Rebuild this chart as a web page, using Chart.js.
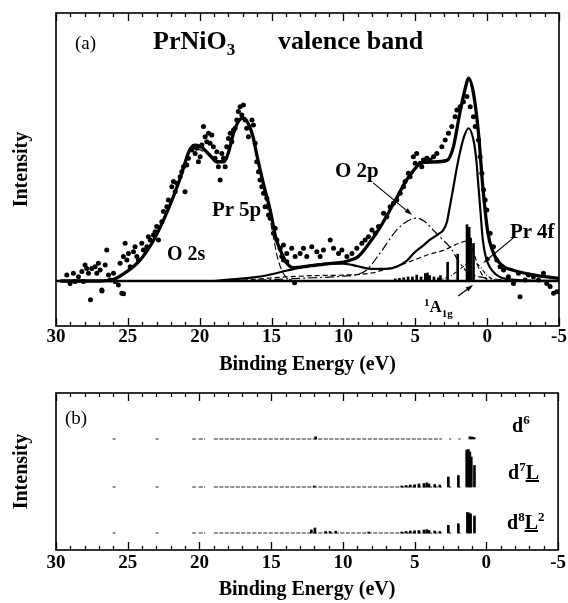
<!DOCTYPE html>
<html><head><meta charset="utf-8">
<script src="https://cdn.jsdelivr.net/npm/chart.js@4.4.1/dist/chart.umd.min.js"></script>
<style>
html,body{margin:0;padding:0;background:#fff;width:568px;height:603px;overflow:hidden;}
#wrap{position:relative;width:568px;height:603px;}
canvas{position:absolute;left:0;}
.lbl{position:absolute;font-family:"Liberation Serif","Times New Roman",serif;font-weight:bold;color:#000;white-space:nowrap;line-height:1;}
</style></head>
<body><div id="wrap">
<canvas id="topc" width="568" height="380" style="top:0"></canvas>
<canvas id="botc" width="568" height="223" style="top:380px"></canvas>
<div class="lbl" style="left:75px;top:33px;font-size:19px;font-weight:normal">(a)</div>
<div class="lbl" style="left:153px;top:28px;font-size:26px">PrNiO<span style="font-size:17px;vertical-align:-6px">3</span></div>
<div class="lbl" style="left:278px;top:28px;font-size:26px">valence band</div>
<div class="lbl" style="left:167px;top:243px;font-size:20px">O 2s</div>
<div class="lbl" style="left:212px;top:199px;font-size:21px">Pr 5p</div>
<div class="lbl" style="left:335px;top:160px;font-size:21px">O 2p</div>
<div class="lbl" style="left:510px;top:221px;font-size:21px">Pr 4f</div>
<div class="lbl" style="left:424px;top:297px;font-size:17px"><span style="font-size:11px;vertical-align:6px">1</span>A<span style="font-size:11px;vertical-align:-5px">1g</span></div>
<div class="lbl" style="left:65px;top:408px;font-size:19px;font-weight:normal">(b)</div>
<div class="lbl" style="left:512px;top:413px;font-size:20px">d<span style="font-size:13px;vertical-align:8px">6</span></div>
<div class="lbl" style="left:508px;top:460px;font-size:20px">d<span style="font-size:13px;vertical-align:8px">7</span><u>L</u></div>
<div class="lbl" style="left:507px;top:510px;font-size:20px">d<span style="font-size:13px;vertical-align:8px">8</span><u>L</u><span style="font-size:13px;vertical-align:8px">2</span></div>
</div>
<script>
// ---------- DATA (energy in eV, intensity in arbitrary units) ----------
const energyMin = -5, energyMax = 30, majorStep = 5, minorStep = 1;

// experimental points [E, I]
const measured = [
[29.25,2.2],[29.02,-0.9],[28.79,2.9],[28.67,-0.2],[28.44,1.6],[28.2,3.5],[28.09,-0.2],[27.98,6.0],[27.86,4.7],[27.74,2.9],
[27.6,-7],[27.51,4.7],[27.28,5.3],[27.16,2.9],[27.05,6.6],[26.93,4.1],[26.81,-3.4],[26.8,-3.7],[26.58,6.0],[26.47,11.6],[26.35,2.2],
[26.23,0.4],[26.0,2.9],[25.89,-0.2],[25.66,-1.5],[25.54,6.6],[25.42,-4.6],[25.3,-4.8],[25.31,9.1],[25.19,14.1],[25.07,7.8],
[24.96,10.3],[24.84,5.3],[24.61,10.9],[24.5,12.8],[24.38,9.1],[24.27,7.8],[24.03,14.1],[23.92,11.6],[23.68,12.8],[23.57,16.5],
[23.45,15.3],[23.22,17.2],[23.1,18.4],[22.99,20.3],[22.87,15.3],[22.64,22.1],[22.52,25.9],[22.29,27.7],[22.18,30.2],[21.94,35.2],
[21.83,37.1],[21.71,33.3],[21.59,36.5],[21.36,38.9],[21.25,40.8],[21.13,42.6],[21.02,33.3],[20.9,43.3],[20.79,45.8],[20.55,48.9],
[20.44,50.1],[20.32,47.6],[20.2,49.5],[20.09,44.5],[19.97,46.4],[19.85,50.7],[19.74,57.6],[19.62,53.8],[19.51,52],[19.39,55.1],
[19.28,51.4],[19.16,54.5],[19.05,50.1],[18.93,45.8],[18.81,48.2],[18.7,42.6],[18.58,37.7],[18.46,47.6],[18.35,45.8],[18.23,42.6],
[18.12,50.1],[18.0,53.2],[17.88,55.1],[17.77,52],[17.65,56.3],[17.54,57],[17.42,60.1],[17.31,63.2],[17.19,65],[17.07,61.9],
[16.96,65.7],[16.84,60.1],[16.73,57],[16.61,53.8],[16.37,60.1],[16.26,58.2],[16.14,51.4],[16.03,44.5],[15.91,40.8],[15.8,37.7],
[15.68,35.2],[15.56,32.7],[15.45,27.7],[15.33,30.9],[15.21,24.6],[15.1,23.4],[14.87,17.8],[14.75,19.7],[14.63,15.3],[14.4,12.2],
[14.29,9.1],[14.17,7.8],[13.94,7.2],[14.17,13.4],[13.94,10.3],[13.6,12.2],[13.4,-0.7],[13.36,9.1],[13.01,10.3],[12.78,12.2],[12.55,9.1],
[12.2,12.8],[11.85,10.9],[11.62,9.1],[11.39,11.6],[10.92,15.3],[10.69,12.2],[10.34,10.3],[10.11,11.6],[9.76,9.1],[9.41,10.3],
[9.07,12.2],[8.72,14.1],[8.49,15.3],[8.26,16.5],[8.02,19],[7.79,17.8],[7.56,20.3],[7.21,25.3],[6.98,24],[6.75,27.7],[6.52,29],
[6.29,30.2],[6.05,32.7],[5.82,35.2],[5.71,37.1],[5.48,40.2],[5.36,38.9],[5.13,46.4],[5.01,43.9],[4.9,47.6],[4.66,43.9],[4.55,42.6],
[4.43,45.1],[4.2,45.8],[3.97,45.1],[3.73,46.4],[3.5,47.6],[3.15,50.1],[2.92,52.6],[2.69,55.1],[2.46,57.6],[2.23,61.3],[2.11,63.8],
[1.88,65],[1.65,66.9],[1.41,68.8],[1.18,65],[0.95,61.3],[0.83,57.6],[0.6,52.6],[0.49,46.4],[0.37,40.2],[0.25,34],[0.14,30.2],
[0.02,26.5],[-0.21,17.8],[-0.44,12.8],[-0.67,7.8],[-0.9,5.3],[-1.14,4.1],[-1.48,1.6],[-1.83,-0.9],[-2.18,2.9],[-2.29,-5.9],
[-2.64,0.4],[-2.87,2.2],[-3.22,1.6],[-3.57,0.4],[-3.92,2.9],[-4.15,-0.9],[-4.38,-2.1],[-4.62,-4.6],[-4.85,-4.0]
];

// total fit (thick solid)
const totalFit = [
[29.7,0],[28,0],[27,0],[26.1,0.4],[25.07,3.5],[24.15,7.8],[23.2,15.3],[22.3,25.4],[21.4,37.7],[20.7,48.9],[20.3,50.7],[19.9,50],
[19.3,47],[18.8,44.5],[18.3,44.5],[18.0,48],[17.6,56],[17.2,60.3],[16.95,60.8],[16.6,58.5],[16.3,54],[16.0,46.4],[15.6,37],
[15.1,26.5],[14.7,16],[14.4,11.6],[13.94,6.7],[13.5,5],[12.5,5.5],[11,6.5],[10,7],[9.5,7.8],[9.0,9],[8.4,12.7],[7.45,20],[6.5,29],
[5.6,37.7],[5.0,42],[4.65,44],[3.75,44.4],[2.8,45],[2.35,50],[1.9,62.7],[1.5,72.4],[1.3,75.7],[0.95,70],[0.6,55],[0.3,35],
[-0.05,18],[-0.4,11],[-0.7,7.8],[-1.2,5.2],[-1.8,4],[-3,2.5],[-4.2,1.5],[-5,1]
];
// Pr 5p component (thin dashed)
const pr5p = [
[20.2,49.5],[19.5,47.5],[18.8,44],[18.1,45.5],[17.7,54.5],[17.0,60.3],[16.5,57],[16.0,45.5],[15.5,33],[15.0,20],[14.6,9],
[14.2,3],[13.7,0.5],[13,0]
];
// Ni 3d spectrum (medium solid)
const ni3d = [
[19,0],[18,0.5],[16,1.5],[15,2.5],[14,3.8],[13,5],[12,6],[11,6.5],[10,6.5],[9,5.5],[8,4.5],[7,4.5],[6.3,5.3],[5.6,7.5],
[5.1,10.4],[4.5,13],[4.0,15.3],[3.4,17.5],[3.05,19],[2.8,22],[2.6,27.6],[2.35,35],[2.1,42.5],[1.85,49],[1.6,54],[1.3,57],
[0.95,52.6],[0.75,45],[0.6,35],[0.45,25],[0.3,15.3],[0.1,9],[-0.2,5],[-0.6,2.5],[-1,1.2],[-2,0.4],[-3,0.1],[-5,0]
];
// O 2p component (dash-dot)
const o2p = [
[16,0.3],[13,1],[10,1.8],[9,2.5],[8.4,4],[7.45,10.4],[6.3,19],[5.5,22.5],[4.9,23.5],[4.3,22],[3.75,19],[3.2,16],[2.6,12.7],
[1.9,6.7],[1.5,4],[1,2.2],[0.5,1.5],[0,1],[-1,0.5]
];
// broad dashed component
const broadComp = [
[17,0.3],[14,1.5],[12,2],[10,2.2],[8,3],[7,4.5],[6,6],[5,8],[4,10],[3,11.5],[2,14],[1.3,15],[0.9,10],[0.6,5],[0.3,2],[0,0.5]
];
// Pr 4f component (dash-dot, small)
const pr4f = [
[3.5,0],[2.5,2],[2,4],[1.5,6],[1,7],[0.6,6],[0.3,4],[0,2],[-0.5,0.5],[-1,0]
];
// zero line
const zeroLine = [[30,0],[-5,0]];
// calculated line spectrum (top panel) [E, height]
const topSticks = [
[6.4,0.8],[6.1,1],[5.8,1.2],[5.5,1.5],[5.2,1.5],[4.9,2.2],[4.6,1.5],[4.3,2.8],[4.15,3],[4.0,2],[3.7,1.5],[3.4,1.2],[3.25,2],
[2.75,7],[2.05,10],[1.4,21],[1.25,20],[1.15,16],[0.95,14]
];

// bottom panel: row offsets and sticks [E, height]
const rowNames = ['d6','d7L','d8L2'];
const rowBase = [111, 63, 17];
const d6Sticks = [[11.9,2.2],[1.15,2.2],[1.0,2],[0.85,1.5]];
const d7LSticks = [[12.0,1],[5.9,1],[5.6,1.5],[5.3,2],[5.0,2.2],[4.7,3],[4.35,3.5],[4.15,4.2],[4.0,3],[3.6,2.5],[3.25,2],
  [2.65,10],[1.95,11.5],[1.37,37],[1.25,37.5],[1.15,35],[1.05,30],[0.83,21.5]];
const d8L2Sticks = [[12.2,3],[11.95,5],[11.2,1.5],[10.9,1.5],[10.5,1.8],[8.2,1],[5.9,1],[5.6,1.5],[5.3,2],[5.0,2.2],[4.7,2.5],
  [4.35,3],[4.15,3.3],[4.0,2.5],[3.6,2],[3.25,1.5],[2.65,7.7],[1.95,9.3],[1.32,20.5],[1.2,20],[1.1,19],[0.83,17]];
const rowSegments = [[26.05,25.85],[23.05,22.85],[20.5,20.25],[20.05,19.6],[19.0,3.1],[2.6,2.45],[1.95,1.8]];

// annotation arrows in data coords [fromE, fromI, toE, toI]
const arrowsTop = [[7.93,36.6,5.22,24.6],[-1.81,16,0.28,6.7],[2.02,-5.6,0.97,-1.5]];

// ---------- helpers ----------
const pts = arr => arr.map(([x,y]) => ({x, y}));
const serif = "'Liberation Serif','Times New Roman',serif";
const BLACK = '#000';

const framePlugin = {
  id: 'frame',
  afterDatasetsDraw(chart) {
    const {ctx, chartArea: {left, right, top, bottom}, scales: {x}} = chart;
    ctx.save();
    ctx.strokeStyle = BLACK;
    ctx.lineWidth = 1.6;
    ctx.strokeRect(left, top, right - left, bottom - top);
    ctx.lineWidth = 1.3;
    for (let v = energyMin; v <= energyMax; v += minorStep) {
      const px = Math.round(x.getPixelForValue(v)) + 0.5;
      const len = v % majorStep === 0 ? 8 : 4;
      ctx.beginPath();
      ctx.moveTo(px, bottom); ctx.lineTo(px, bottom - len);
      ctx.moveTo(px, top); ctx.lineTo(px, top + len);
      ctx.stroke();
    }
    ctx.restore();
  }
};
const arrowPlugin = {
  id: 'arrows',
  afterDatasetsDraw(chart, args, opts) {
    const list = opts.list || [];
    const {ctx, scales: {x, y}} = chart;
    ctx.save();
    ctx.strokeStyle = BLACK; ctx.fillStyle = BLACK; ctx.lineWidth = 1.2;
    list.forEach(([e0, i0, e1, i1]) => {
      const x0 = x.getPixelForValue(e0), y0 = y.getPixelForValue(i0);
      const x1 = x.getPixelForValue(e1), y1 = y.getPixelForValue(i1);
      const a = Math.atan2(y1 - y0, x1 - x0);
      ctx.beginPath(); ctx.moveTo(x0, y0); ctx.lineTo(x1 - 5 * Math.cos(a), y1 - 5 * Math.sin(a)); ctx.stroke();
      ctx.beginPath();
      ctx.moveTo(x1, y1);
      ctx.lineTo(x1 - 8 * Math.cos(a - 0.3), y1 - 8 * Math.sin(a - 0.3));
      ctx.lineTo(x1 - 8 * Math.cos(a + 0.3), y1 - 8 * Math.sin(a + 0.3));
      ctx.closePath(); ctx.fill();
    });
    ctx.restore();
  }
};

function xScale(tickPad, titlePadBottom, h) {
  return {
    type: 'linear', reverse: true, min: energyMin, max: energyMax, offset: false,
    grid: {display: false, drawTicks: false}, border: {display: false},
    ticks: {stepSize: majorStep, autoSkip: false, maxRotation: 0, padding: tickPad, color: BLACK,
      font: {family: serif, weight: 'bold', size: 19}, callback: v => String(v)},
    title: {display: true, text: 'Binding Energy (eV)', color: BLACK,
      font: {family: serif, weight: 'bold', size: 20}, padding: {top: 0, bottom: titlePadBottom}},
    afterFit(s) { s.height = h; }
  };
}
function yScale(min, max) {
  return {
    type: 'linear', min, max, grid: {display: false, drawTicks: false}, border: {display: false},
    ticks: {display: false},
    title: {display: true, text: 'Intensity', color: BLACK,
      font: {family: serif, weight: 'bold', size: 20}, padding: {top: 10, bottom: 0}},
    afterFit(s) { s.width = 56; }
  };
}
const lineDS = (data, width, dash, order) => ({
  type: 'line', data: pts(data), borderColor: BLACK, borderWidth: width, borderDash: dash,
  pointRadius: 0, fill: false, cubicInterpolationMode: 'monotone', order
});

// ---------- TOP PANEL ----------
new Chart(document.getElementById('topc'), {
  type: 'bar',
  data: {
    datasets: [
      {type: 'bar', data: topSticks.map(([e, h]) => ({x: e, y: [0, h]})), backgroundColor: BLACK,
        barThickness: 2, grouped: false, order: 6},
      {...lineDS(zeroLine, 2.3, [], 5)},
      {...lineDS(broadComp, 1.2, [5, 3], 4)},
      {...lineDS(o2p, 1.2, [9, 3, 2, 3], 4)},
      {...lineDS(pr4f, 1.1, [4, 2, 1, 2], 4)},
      {...lineDS(pr5p, 1.1, [7, 3], 4)},
      {...lineDS(ni3d, 2.2, [], 3)},
      {...lineDS(totalFit, 3.3, [], 2)},
      {type: 'line', data: pts(measured), showLine: false, pointRadius: 2.5, pointBackgroundColor: BLACK,
        pointBorderWidth: 0, borderColor: BLACK, order: 1}
    ]
  },
  options: {
    responsive: false, animation: false, devicePixelRatio: 1,
    layout: {padding: {top: 13, right: 9, left: 0, bottom: 0}},
    plugins: {legend: {display: false}, tooltip: {enabled: false}, arrows: {list: arrowsTop}},
    scales: {x: xScale(0, 3, 54), y: yScale(-16.8, 100)}
  },
  plugins: [framePlugin, arrowPlugin]
});

// ---------- BOTTOM PANEL ----------
const rowSticks = [d6Sticks, d7LSticks, d8L2Sticks];
const botSets = [];
rowSticks.forEach((sticks, r) => {
  const b = rowBase[r];
  botSets.push({type: 'bar', label: rowNames[r], data: sticks.map(([e, h]) => ({x: e, y: [b, b + h]})),
    backgroundColor: BLACK, barThickness: 2, grouped: false, order: 2});
  const seg = [];
  rowSegments.forEach(([e0, e1]) => { seg.push({x: e0, y: b}, {x: e1, y: b}, {x: (e1 - 0.01), y: null}); });
  botSets.push({type: 'line', data: seg, borderColor: '#222', borderWidth: 1, borderDash: [4, 1.5],
    pointRadius: 0, spanGaps: false, fill: false, order: 3});
});
new Chart(document.getElementById('botc'), {
  type: 'bar',
  data: {datasets: botSets},
  options: {
    responsive: false, animation: false, devicePixelRatio: 1,
    layout: {padding: {top: 13, right: 9, left: 0, bottom: 0}},
    plugins: {legend: {display: false}, tooltip: {enabled: false}},
    scales: {x: xScale(2, 1, 53), y: yScale(0, 157)}
  },
  plugins: [framePlugin]
});
</script>
</body></html>
